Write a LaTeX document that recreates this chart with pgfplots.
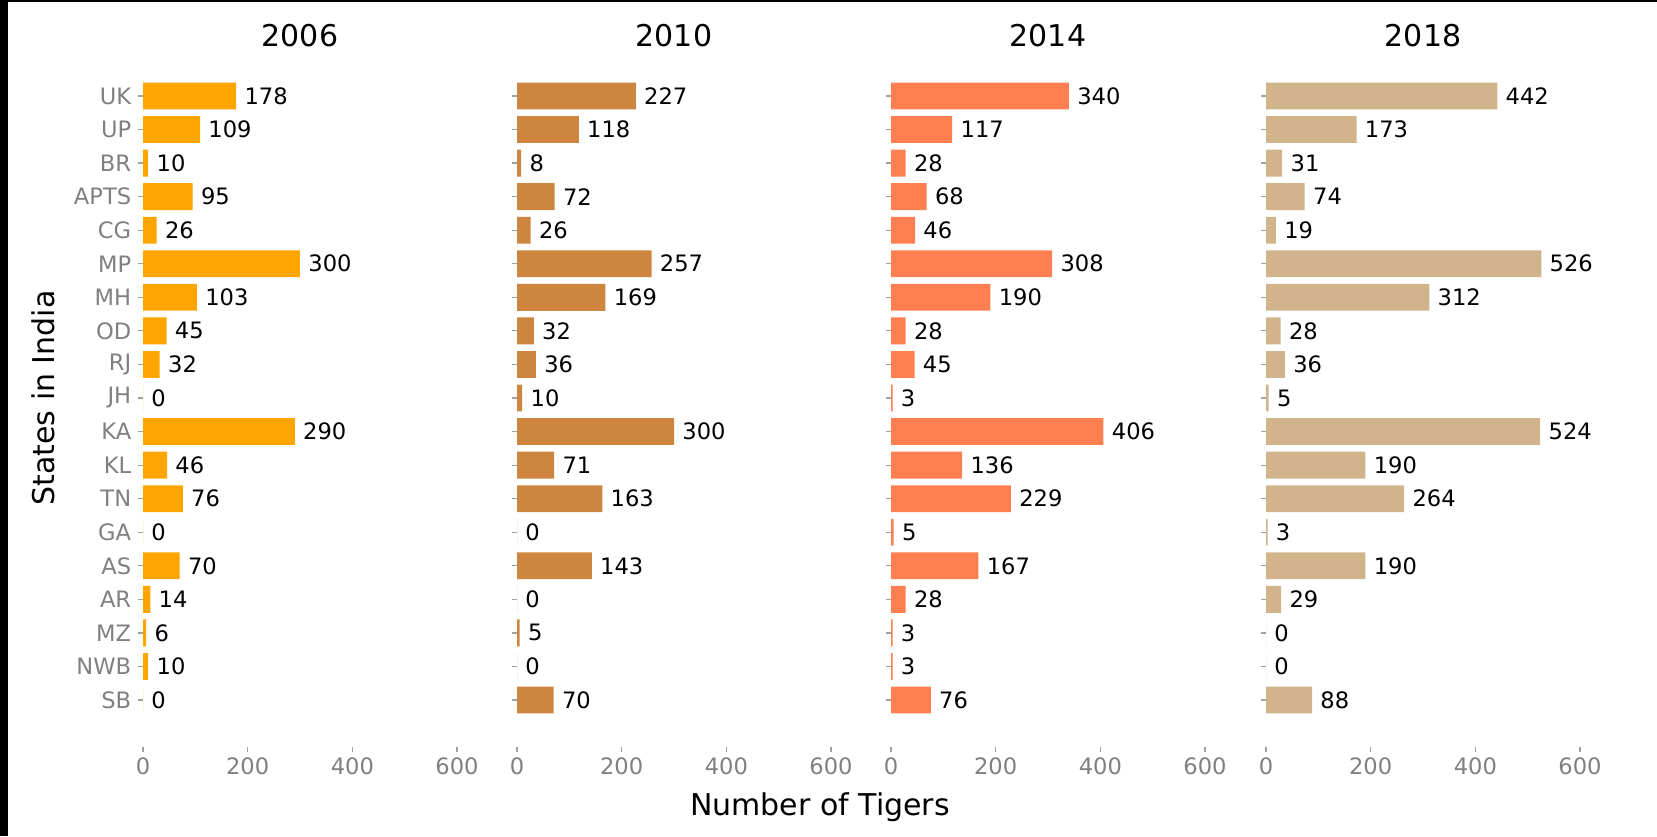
\documentclass[border=0pt]{standalone}
\usepackage{fontspec}
\setmainfont{DejaVu Sans}
\usepackage{pgfplots}
\usepackage{pgfplotstable}
\pgfplotsset{compat=1.18}
\definecolor{c2006}{HTML}{FFA500}
\definecolor{c2010}{HTML}{CD853F}
\definecolor{c2014}{HTML}{FF7F50}
\definecolor{c2018}{HTML}{D2B48C}
\definecolor{tickgray}{HTML}{A0A0A0}
\definecolor{labelgray}{HTML}{808080}
\pgfplotstableread{
y v2006 v2010 v2014 v2018
18 178 227 340 442
17 109 118 117 173
16 10 8 28 31
15 95 72 68 74
14 26 26 46 19
13 300 257 308 526
12 103 169 190 312
11 45 32 28 28
10 32 36 45 36
9 0 10 3 5
8 290 300 406 524
7 46 71 136 190
6 76 163 229 264
5 0 0 5 3
4 70 143 167 190
3 14 0 28 29
2 6 5 3 0
1 10 0 3 0
0 0 70 76 88
}\tigers
\pgfplotsset{
  panel/.style={
    scale only axis, width=157pt, height=349pt,
    anchor=south west,
    xbar, bar width=0.8, bar shift=0pt,
    xmin=0, xmax=600, ymin=-1.4, ymax=19.4,
    xtick={0,200,400,600}, ytick={0,...,18},
    axis line style={draw=none},
    tick pos=left, tick align=outside, major tick length=2.5pt,
    tick style={draw=tickgray, line width=0.6pt},
    ticklabel style={font=\fontsize{11.3}{13}\selectfont, text=labelgray},
    xticklabel style={anchor=base, yshift=-11.4pt},
    yticklabel style={anchor=east, inner sep=0pt, xshift=-3.2pt},
    /pgf/number format/assume math mode=true,
    nodes near coords,
    nodes near coords style={anchor=west, inner sep=0pt, xshift=4pt,
      font=\fontsize{11.3}{13}\selectfont, text=black},
    every axis title/.style={at={(axis description cs:0.5,1)}, anchor=base,
      yshift=1.2pt, font=\fontsize{15}{18}\selectfont, text=black},
    clip=false,
  }
}
\begin{document}
\begin{tikzpicture}
\useasboundingbox (0,0) rectangle (828.5pt,418pt);
\begin{axis}[panel, at={(71.5pt,44.5pt)}, title={2006},
  yticklabels={SB,NWB,MZ,AR,AS,GA,TN,KL,KA,JH,RJ,OD,MH,MP,CG,APTS,BR,UP,UK},
  ylabel={States in India},
  every axis y label/.style={at={(axis description cs:-0.318,0.5)}, rotate=90,
    anchor=center, font=\fontsize{15}{18}\selectfont, text=black}]
\addplot[fill=c2006, draw=none] table[x=v2006, y=y] {\tigers};
\end{axis}
\begin{axis}[panel, at={(258.5pt,44.5pt)}, title={2010}, yticklabels={},
  xlabel={Number of Tigers},
  every axis x label/.style={at={(axis description cs:0.965,0)}, anchor=base,
    yshift=-34.3pt, font=\fontsize{15}{18}\selectfont, text=black}]
\addplot[fill=c2010, draw=none] table[x=v2010, y=y] {\tigers};
\end{axis}
\begin{axis}[panel, at={(445.5pt,44.5pt)}, title={2014}, yticklabels={}]
\addplot[fill=c2014, draw=none] table[x=v2014, y=y] {\tigers};
\end{axis}
\begin{axis}[panel, at={(633pt,44.5pt)}, title={2018}, yticklabels={}]
\addplot[fill=c2018, draw=none] table[x=v2018, y=y] {\tigers};
\end{axis}
\fill[black] (0,0) rectangle (4pt,418pt);
\fill[black] (0,417pt) rectangle (828.5pt,418pt);
\end{tikzpicture}
\end{document}
